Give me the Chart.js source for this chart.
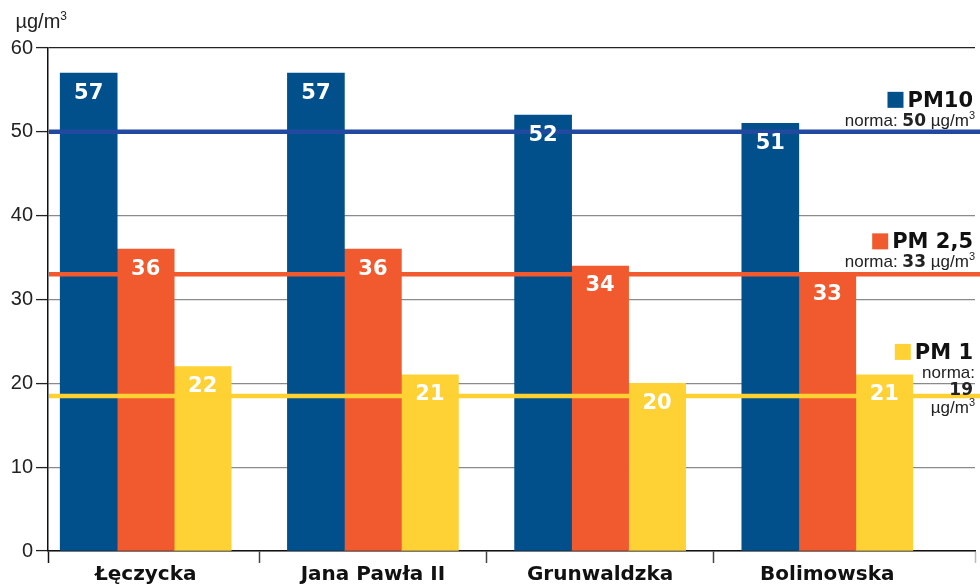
<!DOCTYPE html>
<html>
<head>
<meta charset="utf-8">
<script src="https://cdn.jsdelivr.net/npm/chart.js@4"></script>
<style>
  html, body { margin: 0; padding: 0; background: #fff; }
  #wrap { width: 980px; height: 588px; }
</style>
</head>
<body>
<div id="wrap"><canvas id="chart" width="980" height="588"></canvas></div>
<script>
// dane z pomiarów
const categories = ['Łęczycka', 'Jana Pawła II', 'Grunwaldzka', 'Bolimowska'];
const pm10 = [57, 57, 52, 51];
const pm25 = [36, 36, 34, 33];
const pm1 = [22, 21, 20, 21];
const seriesNames = ['PM10', 'PM 2,5', 'PM 1'];
const normTexts = ['50', '33', '19'];
const normLevels = [50, 33, 18.5];
const yTicks = [0, 10, 20, 30, 40, 50, 60];

const barColors = ['#02508b', '#f15a2f', '#fed135'];
const lineColors = ['#2249a0', '#f15a2f', '#fdd131'];
const seriesValues = [pm10, pm25, pm1];

const boldFont = '"DejaVu Sans", sans-serif';
const lightFont = '"Liberation Sans", Arial, sans-serif';

// tekst z kilku kawałków, wyrównany do prawej
function drawParts(ctx, parts, right, base) {
  let total = 0;
  parts.forEach(p => {
    ctx.font = p.font;
    p.w = ctx.measureText(p.text).width;
    total += p.w;
  });
  let x = right - total;
  parts.forEach(p => {
    ctx.font = p.font;
    ctx.fillText(p.text, x, base - (p.dy || 0));
    x += p.w;
  });
}

function unitParts(size) {
  return [
    { text: 'µg/m', font: `${size}px ${lightFont}` },
    { text: '3', font: `${Math.round(size * 0.62)}px ${lightFont}`, dy: Math.round(size * 0.42) },
  ];
}

const normPlugin = {
  id: 'normLines',
  afterDatasetsDraw(chart) {
    const ctx = chart.ctx;
    const area = chart.chartArea;
    const y = chart.scales.y;
    ctx.save();
    normLevels.forEach((level, i) => {
      const py = y.getPixelForValue(level);
      ctx.strokeStyle = lineColors[i];
      ctx.lineWidth = 4.5;
      ctx.beginPath();
      ctx.moveTo(area.left + 1, py);
      ctx.lineTo(chart.width, py);
      ctx.stroke();
    });

    // wartości w słupkach
    ctx.fillStyle = '#fff';
    ctx.textAlign = 'center';
    ctx.textBaseline = 'middle';
    ctx.font = `bold 21px ${boldFont}`;
    chart.data.datasets.forEach((ds, di) => {
      const meta = chart.getDatasetMeta(di);
      meta.data.forEach((bar, i) => {
        ctx.fillText(String(seriesValues[di][i]), bar.x, bar.y + 20);
      });
    });
    ctx.restore();
  },
  afterDraw(chart) {
    const ctx = chart.ctx;
    const y = chart.scales.y;
    ctx.save();
    ctx.fillStyle = '#222';
    ctx.textAlign = 'left';
    ctx.textBaseline = 'alphabetic';

    // jednostka nad osią
    drawParts(ctx, unitParts(20), 12 + 55, 28);

    const titleFont = `bold 21px ${boldFont}`;
    const normFont = `17px ${lightFont}`;
    const numFont = `bold 17px ${boldFont}`;
    const right = 975;

    const drawTitle = (i, base) => {
      ctx.fillStyle = '#111';
      ctx.font = titleFont;
      const w = ctx.measureText(seriesNames[i]).width;
      ctx.fillText(seriesNames[i], right - 2 - w, base);
      ctx.fillStyle = barColors[i];
      ctx.fillRect(right - 2 - w - 20, base - 15, 16, 16);
      ctx.fillStyle = '#222';
    };

    // PM10
    let ly = y.getPixelForValue(normLevels[0]);
    drawTitle(0, ly - 25);
    drawParts(ctx, [
      { text: 'norma: ', font: normFont },
      { text: normTexts[0], font: numFont },
      { text: ' ', font: normFont },
      ...unitParts(17),
    ], right, ly - 6);

    // PM 2,5
    ly = y.getPixelForValue(normLevels[1]);
    drawTitle(1, ly - 26);
    drawParts(ctx, [
      { text: 'norma: ', font: normFont },
      { text: normTexts[1], font: numFont },
      { text: ' ', font: normFont },
      ...unitParts(17),
    ], right, ly - 7);

    // PM 1
    ly = y.getPixelForValue(normLevels[2]);
    drawTitle(2, ly - 37);
    drawParts(ctx, [{ text: 'norma:', font: normFont }], right, ly - 18);
    drawParts(ctx, [{ text: normTexts[2], font: numFont }], right - 2, ly - 1);
    drawParts(ctx, unitParts(17), right, ly + 17);

    ctx.restore();
  },
};

const datasets = seriesValues.map((values, i) => ({
  label: seriesNames[i],
  data: values.map((v, idx) => ({ x: idx, y: v })),
  backgroundColor: barColors[i],
  borderWidth: 0,
  barThickness: 57,
}));

new Chart(document.getElementById('chart'), {
  type: 'bar',
  data: { datasets },
  options: {
    responsive: false,
    animation: false,
    layout: { padding: { top: 48, right: 5, left: 0, bottom: 0 } },
    plugins: {
      legend: { display: false },
      tooltip: { enabled: false },
    },
    scales: {
      x: {
        type: 'linear',
        min: -0.43,
        max: 3.65,
        bounds: 'data',
        offset: false,
        afterBuildTicks: axis => {
          const vals = [axis.min];
          categories.forEach((c, i) => {
            vals.push(i);
            if (i < categories.length - 1) vals.push(i + 0.5);
          });
          vals.push(axis.max);
          axis.ticks = vals.map(v => ({ value: v }));
        },
        afterFit: axis => { axis.height = 37; },
        grid: {
          offset: false,
          drawOnChartArea: false,
          tickLength: 12,
          tickWidth: 1.5,
          tickColor: ctx => {
            const v = ctx.tick ? ctx.tick.value : 0;
            if (Number.isInteger(v)) return 'rgba(0,0,0,0)';
            if (ctx.index === 0) return '#111';
            return ctx.index === categories.length * 2 ? '#bbb' : '#444';
          },
        },
        border: { color: '#111', width: 1.5 },
        ticks: {
          autoSkip: false,
          maxRotation: 0,
          padding: 0,
          color: '#111',
          font: { family: boldFont, size: 20, weight: 'bold' },
          callback: v => (Number.isInteger(v) ? categories[v] : ''),
        },
      },
      y: {
        min: 0,
        max: 60,
        afterBuildTicks: axis => { axis.ticks = yTicks.map(v => ({ value: v })); },
        afterFit: axis => { axis.width = 48; },
        grid: {
          color: ctx => (ctx.tick && ctx.tick.value === 60 ? '#222' : '#8a8a8a'),
          lineWidth: 1.2,
          tickLength: 12,
          tickColor: '#222',
          tickWidth: 1.3,
        },
        border: { color: '#111', width: 1.5 },
        ticks: {
          padding: 3,
          color: '#222',
          font: { family: lightFont, size: 20 },
        },
      },
    },
  },
  plugins: [normPlugin],
});
</script>
</body>
</html>
